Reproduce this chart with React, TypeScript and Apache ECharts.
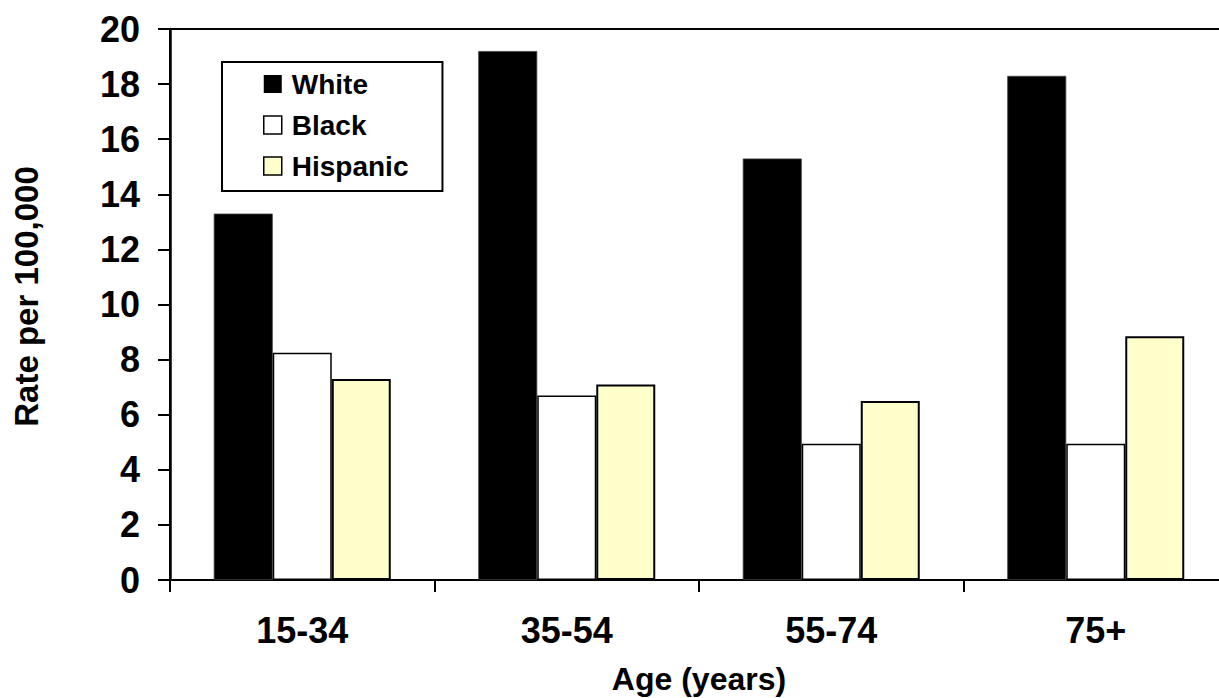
import React, { useEffect, useRef } from "react";
import * as echarts from "echarts";

const categories = ["15-34", "35-54", "55-74", "75+"];
const whiteValues = [13.3, 19.2, 15.3, 18.3];
const blackValues = [8.25, 6.7, 4.95, 4.95];
const hispanicValues = [7.3, 7.1, 6.5, 8.85];
const seriesNames = ["White", "Black", "Hispanic"];

const FONT = '"Liberation Sans", Arial, Helvetica, sans-serif';

export default function App() {
  const ref = useRef<HTMLDivElement>(null);
  useEffect(() => {
    if (!ref.current) return;
    const chart = echarts.init(ref.current, null, { renderer: "svg" });
    chart.setOption({
      animation: false,
      backgroundColor: "#fff",
      grid: {
        left: 170,
        top: 29,
        right: -9,
        bottom: 118,
        outerBoundsMode: "none",
        containLabel: false,
        show: true,
        borderColor: "#000",
        borderWidth: 2,
        backgroundColor: "transparent",
      },
      legend: {
        orient: "vertical",
        left: 222,
        top: 62,
        padding: [8, 34, 11, 41],
        borderColor: "#000",
        borderWidth: 2,
        backgroundColor: "#fff",
        itemWidth: 18,
        itemHeight: 18,
        itemGap: 13,
        icon: "rect",
        selectedMode: false,
        textStyle: {
          fontFamily: FONT,
          fontWeight: "bold",
          fontSize: 28,
          color: "#000",
          padding: [0, 0, 0, 5],
        },
        data: [
          { name: seriesNames[0], itemStyle: { color: "#000", borderWidth: 0 } },
          { name: seriesNames[1], itemStyle: { color: "#fff", borderColor: "#000", borderWidth: 1.5 } },
          { name: seriesNames[2], itemStyle: { color: "#FFFFCC", borderColor: "#000", borderWidth: 1.5 } },
        ],
      },
      xAxis: {
        type: "category",
        data: categories,
        boundaryGap: true,
        name: "Age (years)",
        nameLocation: "middle",
        nameGap: 83,
        nameTextStyle: { fontFamily: FONT, fontWeight: "bold", fontSize: 32, color: "#000" },
        axisLine: { lineStyle: { color: "#000", width: 2 } },
        axisTick: { show: true, length: 12, inside: false, lineStyle: { color: "#000", width: 2 } },
        axisLabel: {
          fontFamily: FONT,
          fontWeight: "bold",
          fontSize: 36,
          color: "#000",
          margin: 32,
          interval: 0,
        },
        splitLine: { show: false },
      },
      yAxis: {
        type: "value",
        min: 0,
        max: 20,
        interval: 2,
        name: "Rate per 100,000",
        nameLocation: "middle",
        nameGap: 127,
        nameTextStyle: {
          fontFamily: FONT,
          fontWeight: "bold",
          fontSize: 33,
          color: "#000",
          padding: [0, 0, 0, 16],
        },
        axisLine: { show: true, lineStyle: { color: "#000", width: 2.5 } },
        axisTick: { show: true, length: 12, inside: false, lineStyle: { color: "#000", width: 2 } },
        axisLabel: {
          fontFamily: FONT,
          fontWeight: "bold",
          fontSize: 36,
          color: "#000",
          margin: 30,
        },
        splitLine: { show: false },
      },
      series: [
        {
          name: seriesNames[0],
          type: "bar",
          data: whiteValues,
          barWidth: 59,
          barGap: "0%",
          itemStyle: { color: "#000", borderColor: "#444", borderWidth: 0.8 },
        },
        {
          name: seriesNames[1],
          type: "bar",
          data: blackValues,
          barWidth: 59,
          barGap: "0%",
          itemStyle: { color: "#fff", borderColor: "#000", borderWidth: 1.5 },
        },
        {
          name: seriesNames[2],
          type: "bar",
          data: hispanicValues,
          barWidth: 59,
          barGap: "0%",
          itemStyle: { color: "#FFFFCC", borderColor: "#000", borderWidth: 2 },
        },
      ],
    });
    return () => chart.dispose();
  }, []);
  return (
    <div
      ref={ref}
      style={{ position: "absolute", left: 0, top: 0, width: 1219, height: 698 }}
    />
  );
}
